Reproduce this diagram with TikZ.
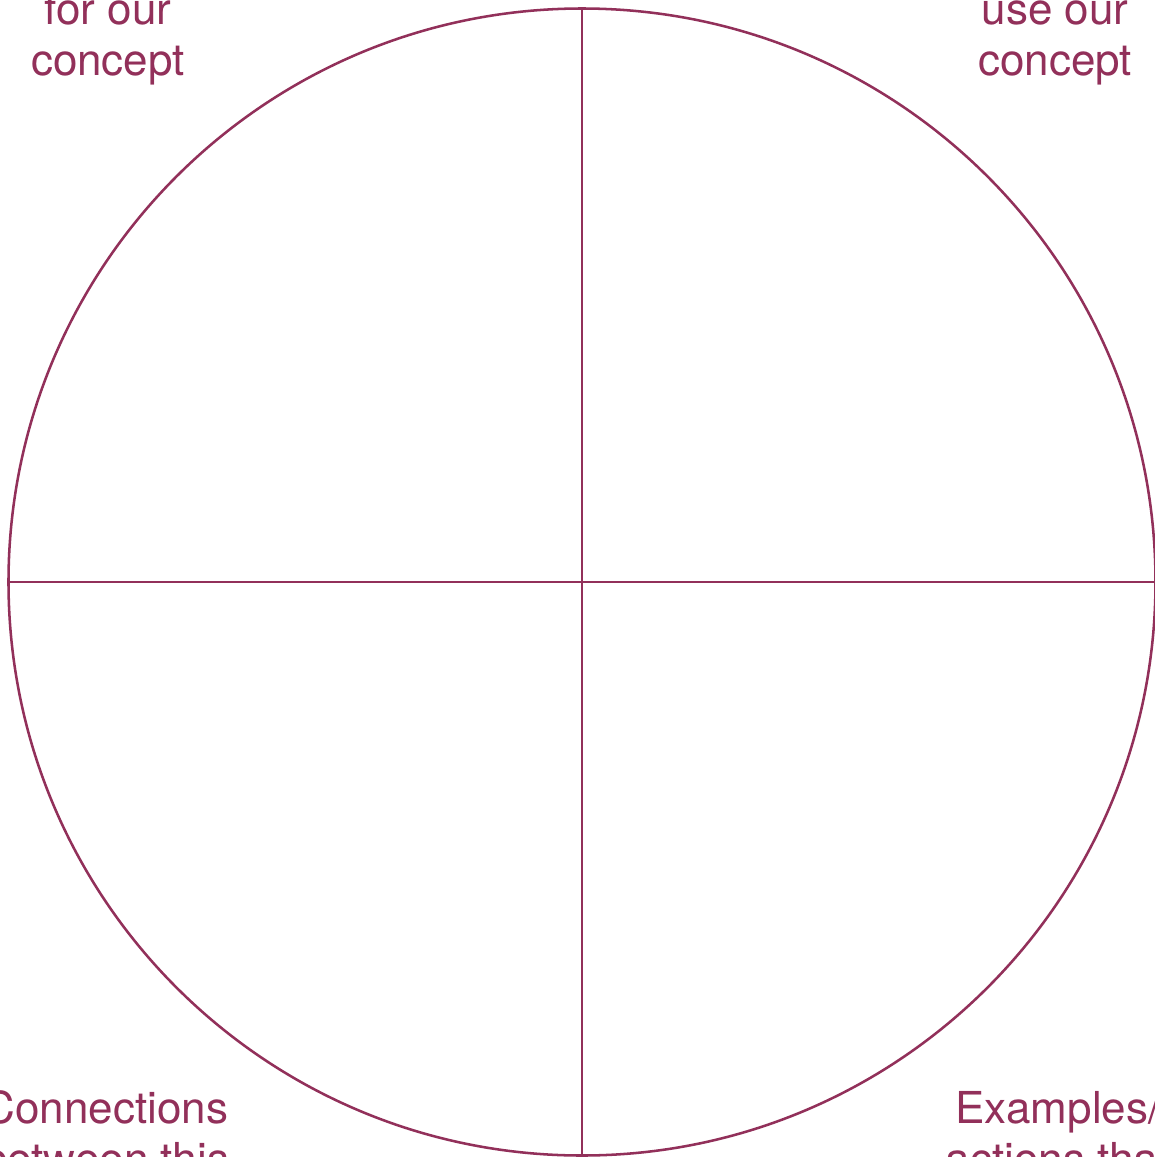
\documentclass[tikz,border=0pt]{standalone}
\usepackage{fontspec}
\setmainfont{TeX Gyre Heros}
\definecolor{plum}{RGB}{146,48,90}
\begin{document}
\begin{tikzpicture}[x=0.75pt,y=-0.75pt,
  ring/.style={circle,draw=plum,line width=1.9pt,minimum size=860.25pt,inner sep=0pt,outer sep=0pt},
  divider/.style={draw=plum,line width=1.9pt},
  lbl/.style={text=plum,font=\fontsize{33}{38}\selectfont,anchor=base,inner sep=0pt}]
\useasboundingbox (0,0) rectangle (1155,1157);
\clip (0,0) rectangle (1155,1157);
\fill[white] (0,0) rectangle (1155,1157);
\node[ring] (c) at (582,582) {};
\draw[divider] (c.north) -- (c.south);
\draw[divider] (c.west) -- (c.east);
\node[lbl] (tl1) at (108,24) {for our};
\node[lbl] (tl2) at (108,75) {concept};
\node[lbl] (tr1) at (1055,24) {use our};
\node[lbl] (tr2) at (1055,75) {concept};
\node[lbl] (bl1) at (106,1123) {Connections};
\node[lbl] (bl2) at (106,1174) {between this};
\node[lbl] (br1) at (1058,1123) {Examples/};
\node[lbl] (br2) at (1058,1174) {actions that};
\end{tikzpicture}
\end{document}
